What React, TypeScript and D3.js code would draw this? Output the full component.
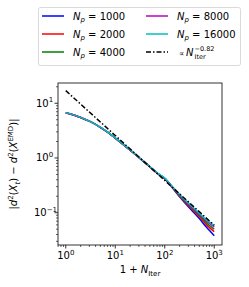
import React from 'react';
import * as d3 from 'd3';

// iterations (1 + N_iter) sampled along the curves
const iters = [1, 2, 3, 5, 7, 10, 20, 30, 50, 70, 100, 150, 200, 300, 500, 700, 1000];

const errNp1000 = [6.7, 5.5, 4.7, 3.64, 2.96, 2.31, 1.39, 1.02, 0.69, 0.53, 0.42, 0.27, 0.195, 0.128, 0.078, 0.054, 0.038];
const errNp2000 = [6.7, 5.5, 4.7, 3.64, 2.96, 2.31, 1.39, 1.02, 0.69, 0.53, 0.42, 0.275, 0.2, 0.135, 0.085, 0.06, 0.045];
const errNp4000 = [6.7, 5.5, 4.7, 3.64, 2.96, 2.31, 1.39, 1.02, 0.69, 0.53, 0.42, 0.278, 0.205, 0.14, 0.09, 0.065, 0.05];
const errNp8000 = [6.7, 5.5, 4.7, 3.64, 2.96, 2.31, 1.39, 1.02, 0.69, 0.53, 0.425, 0.28, 0.21, 0.145, 0.094, 0.07, 0.055];
const errNp16000 = [6.75, 5.52, 4.72, 3.66, 2.98, 2.33, 1.4, 1.03, 0.7, 0.54, 0.43, 0.285, 0.215, 0.15, 0.098, 0.074, 0.058];

const seriesNames = ['1000', '2000', '4000', '8000', '16000'];
const seriesColors = ['#0000ff', '#ff0000', '#008000', '#bf00bf', '#00bfbf'];
const seriesValues = [errNp1000, errNp2000, errNp4000, errNp8000, errNp16000];

const fitCoef = 17;
const fitExp = -0.82;

const xTickLabels = ['0', '1', '2', '3'];
const yTickLabels = ['-1', '0', '1'];

const W = 249, H = 287;
const m = { left: 58, right: 222, top: 83, bottom: 245 };
const FONT = 'DejaVu Sans, sans-serif';

export default function App() {
  const x = d3.scaleLog().domain([Math.pow(10, -0.157), Math.pow(10, 3.157)]).range([m.left, m.right]);
  const y = d3.scaleLog().domain([Math.pow(10, -1.59), Math.pow(10, 1.37)]).range([m.bottom, m.top]);

  const line = d3.line<[number, number]>().x(d => x(d[0])).y(d => y(d[1])).curve(d3.curveMonotoneX);
  const straight = d3.line<[number, number]>().x(d => x(d[0])).y(d => y(d[1]));

  const fitPts: [number, number][] = [1, 1000].map(v => [v, fitCoef * Math.pow(v, fitExp)]);

  const xMinor: number[] = [];
  for (let e = -1; e <= 3; e++) for (let k = 2; k <= 9; k++) {
    const v = k * Math.pow(10, e);
    if (v > x.domain()[0] && v < x.domain()[1]) xMinor.push(v);
  }
  const yMinor: number[] = [];
  for (let e = -2; e <= 1; e++) for (let k = 2; k <= 9; k++) {
    const v = k * Math.pow(10, e);
    if (v > y.domain()[0] && v < y.domain()[1]) yMinor.push(v);
  }

  const legendRows = [
    { c: 0, r: 0, i: 0 }, { c: 0, r: 1, i: 1 }, { c: 0, r: 2, i: 2 },
    { c: 1, r: 0, i: 3 }, { c: 1, r: 1, i: 4 },
  ];
  const colX = [42, 146];
  const rowY = [16, 34, 52];

  return (
    <svg width={W} height={H} style={{ position: 'absolute', left: 0, top: 0, background: '#fff' }} fontFamily={FONT}>
      <defs>
        <clipPath id="plotclip">
          <rect x={m.left} y={m.top} width={m.right - m.left} height={m.bottom - m.top} />
        </clipPath>
      </defs>

      <g clipPath="url(#plotclip)">
        {seriesValues.map((vals, si) => (
          <path key={si} d={line(iters.map((it, j) => [it, vals[j]]) as [number, number][]) || ''}
            fill="none" stroke={seriesColors[si]} strokeWidth={1.5} strokeLinejoin="round" />
        ))}
        <path d={straight(fitPts) || ''} fill="none" stroke="#000" strokeWidth={1.5} strokeDasharray="5,2,1.5,2" />
      </g>

      <rect x={m.left} y={m.top} width={m.right - m.left} height={m.bottom - m.top} fill="none" stroke="#000" strokeWidth={0.8} />

      {/* x ticks */}
      {xTickLabels.map(e => {
        const px = x(Math.pow(10, +e));
        return (
          <g key={'xt' + e}>
            <line x1={px} x2={px} y1={m.bottom} y2={m.bottom + 3.5} stroke="#000" strokeWidth={0.8} />
            <text x={px} y={259} textAnchor="middle" fontSize={10}>
              10<tspan fontSize={7} dy={-4.5}>{e}</tspan>
            </text>
          </g>
        );
      })}
      {xMinor.map((v, i) => (
        <line key={'xm' + i} x1={x(v)} x2={x(v)} y1={m.bottom} y2={m.bottom + 2} stroke="#000" strokeWidth={0.6} />
      ))}

      {/* y ticks */}
      {yTickLabels.map(e => {
        const py = y(Math.pow(10, +e));
        return (
          <g key={'yt' + e}>
            <line x1={m.left - 3.5} x2={m.left} y1={py} y2={py} stroke="#000" strokeWidth={0.8} />
            <text x={e.startsWith('-') ? 34 : 36} y={py + 3.5} textAnchor="start" fontSize={10}>
              10<tspan fontSize={7} dy={-4.5}>{e === '-1' ? '\u22121' : e}</tspan>
            </text>
          </g>
        );
      })}
      {yMinor.map((v, i) => (
        <line key={'ym' + i} x1={m.left - 2} x2={m.left} y1={y(v)} y2={y(v)} stroke="#000" strokeWidth={0.6} />
      ))}

      {/* x label */}
      <text x={(m.left + m.right) / 2} y={273} textAnchor="middle" fontSize={10}>
        1 + <tspan fontStyle="italic">N</tspan><tspan fontSize={7} dy={2.5}>Iter</tspan>
      </text>

      {/* y label */}
      <text transform={`translate(17,${(m.top + m.bottom) / 2}) rotate(-90)`} textAnchor="middle" fontSize={10}>
        |<tspan fontStyle="italic">d</tspan><tspan fontSize={7} dy={-4}>2</tspan>
        <tspan dy={4}>(</tspan><tspan fontStyle="italic">X</tspan><tspan fontSize={7} fontStyle="italic" dy={2.5}>t</tspan>
        <tspan dy={-2.5}>) − </tspan><tspan fontStyle="italic">d</tspan><tspan fontSize={7} dy={-4}>2</tspan>
        <tspan dy={4}>(</tspan><tspan fontStyle="italic">X</tspan><tspan fontSize={7} dy={-4}>EMD</tspan>
        <tspan dy={4}>)|</tspan>
      </text>

      {/* legend */}
      <rect x={38.5} y={7.5} width={202} height={58} rx={2} fill="#fff" stroke="#d0d0d0" strokeWidth={0.8} />
      {legendRows.map(({ c, r, i }) => (
        <g key={'lg' + i}>
          <line x1={colX[c]} x2={colX[c] + 22} y1={rowY[r]} y2={rowY[r]} stroke={seriesColors[i]} strokeWidth={1.5} />
          <text x={colX[c] + 31} y={rowY[r] + 3.5} fontSize={10}>
            <tspan fontStyle="italic">N</tspan><tspan fontSize={7} fontStyle="italic" dy={2.5}>p</tspan>
            <tspan dy={-2.5}> = {seriesNames[i]}</tspan>
          </text>
        </g>
      ))}
      <line x1={colX[1]} x2={colX[1] + 22} y1={rowY[2]} y2={rowY[2]} stroke="#000" strokeWidth={1.5} strokeDasharray="5,2,1.5,2" />
      <text x={colX[1] + 33} y={rowY[2] + 3.5} fontSize={7.5}>∝</text>
      <text x={colX[1] + 40} y={rowY[2] + 3.5} fontSize={10} fontStyle="italic">N</text>
      <text x={colX[1] + 48.5} y={rowY[2] + 6.5} fontSize={6.5}>Iter</text>
      <text x={colX[1] + 48.5} y={rowY[2] - 1} fontSize={6.5}>−0.82</text>
    </svg>
  );
}
